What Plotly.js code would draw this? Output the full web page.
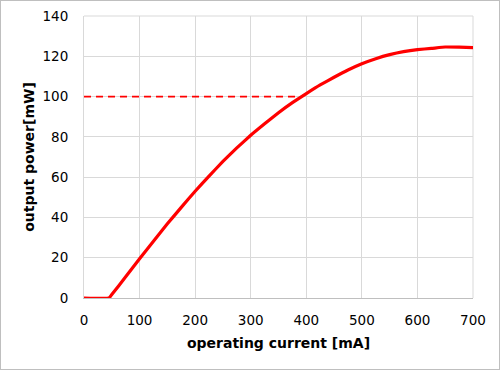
<!DOCTYPE html>
<html>
<head>
<meta charset="utf-8">
<script src="https://cdn.plot.ly/plotly-3.0.1.min.js"></script>
<style>
html,body{margin:0;padding:0;background:#fff;}
#wrap{width:498px;height:368px;border:1px solid #bfbfbf;position:relative;}
#chart{width:498px;height:368px;}
</style>
</head>
<body>
<div id="wrap"><div id="chart"></div></div>
<script>
// operating current [mA]
const current = [0, 45, 50, 75, 100, 125, 150, 175, 200, 225, 250, 275, 300, 325, 350, 375, 400, 425, 450, 475, 500, 525, 550, 575, 600, 625, 650, 675, 700];
// output power [mW]
const power = [0, 0, 1.7, 10.5, 19.5, 28.2, 36.8, 45, 53, 60.5, 67.8, 74.5, 80.8, 86.5, 92, 97, 101.5, 105.8, 109.6, 113.2, 116.3, 118.8, 120.8, 122.3, 123.3, 123.9, 124.6, 124.5, 124.3];
// 100 mW reference level
const refCurrent = [0, 387];
const refPower = [100, 100];

const xTicks = [0, 100, 200, 300, 400, 500, 600, 700];
const yTicks = [0, 20, 40, 60, 80, 100, 120, 140];

const font = 'DejaVu Sans, Verdana, sans-serif';

const traces = [
  {x: refCurrent, y: refPower, mode: 'lines', line: {color: '#ff0000', width: 1.8, dash: '7px,5px'}, hoverinfo: 'skip'},
  {x: current, y: power, mode: 'lines', line: {color: '#ff0000', width: 3.2, shape: 'spline', smoothing: 0.3}}
];

const layout = {
  width: 498, height: 368,
  margin: {l: 83, r: 26, t: 15, b: 71},
  paper_bgcolor: '#fff', plot_bgcolor: '#fff',
  showlegend: false,
  font: {family: font, size: 13.5, color: '#000'},
  xaxis: {
    range: [0, 700], tickvals: xTicks, ticktext: xTicks.map(String),
    showgrid: true, gridcolor: '#d9d9d9', gridwidth: 1,
    showline: true, linecolor: '#bfbfbf', linewidth: 1, mirror: false,
    zeroline: false, ticks: 'outside', ticklen: 10, tickcolor: 'rgba(0,0,0,0)',
    tickfont: {family: font, size: 13.5, color: '#000'},
    title: {text: 'operating current [mA]', font: {family: font, size: 14, color: '#000', weight: 'bold'}, standoff: 10}
  },
  yaxis: {
    range: [0, 140], tickvals: yTicks, ticktext: yTicks.map(String),
    showgrid: true, gridcolor: '#d9d9d9', gridwidth: 1,
    showline: true, linecolor: '#d9d9d9', linewidth: 1, mirror: false,
    zeroline: false, ticks: 'outside', ticklen: 12, tickcolor: 'rgba(0,0,0,0)',
    tickfont: {family: font, size: 13.5, color: '#000'},
    title: {text: 'output power[mW]', font: {family: font, size: 14, color: '#000', weight: 'bold'}, standoff: 4}
  },
  shapes: [
    {type: 'line', xref: 'paper', yref: 'paper', x0: 1, x1: 1, y0: 0, y1: 1, line: {color: '#d9d9d9', width: 1}, layer: 'below'},
    {type: 'line', xref: 'paper', yref: 'paper', x0: 0, x1: 1, y0: 1, y1: 1, line: {color: '#d9d9d9', width: 1}, layer: 'below'}
  ]
};

Plotly.newPlot('chart', traces, layout, {displayModeBar: false, staticPlot: true});
</script>
</body>
</html>
